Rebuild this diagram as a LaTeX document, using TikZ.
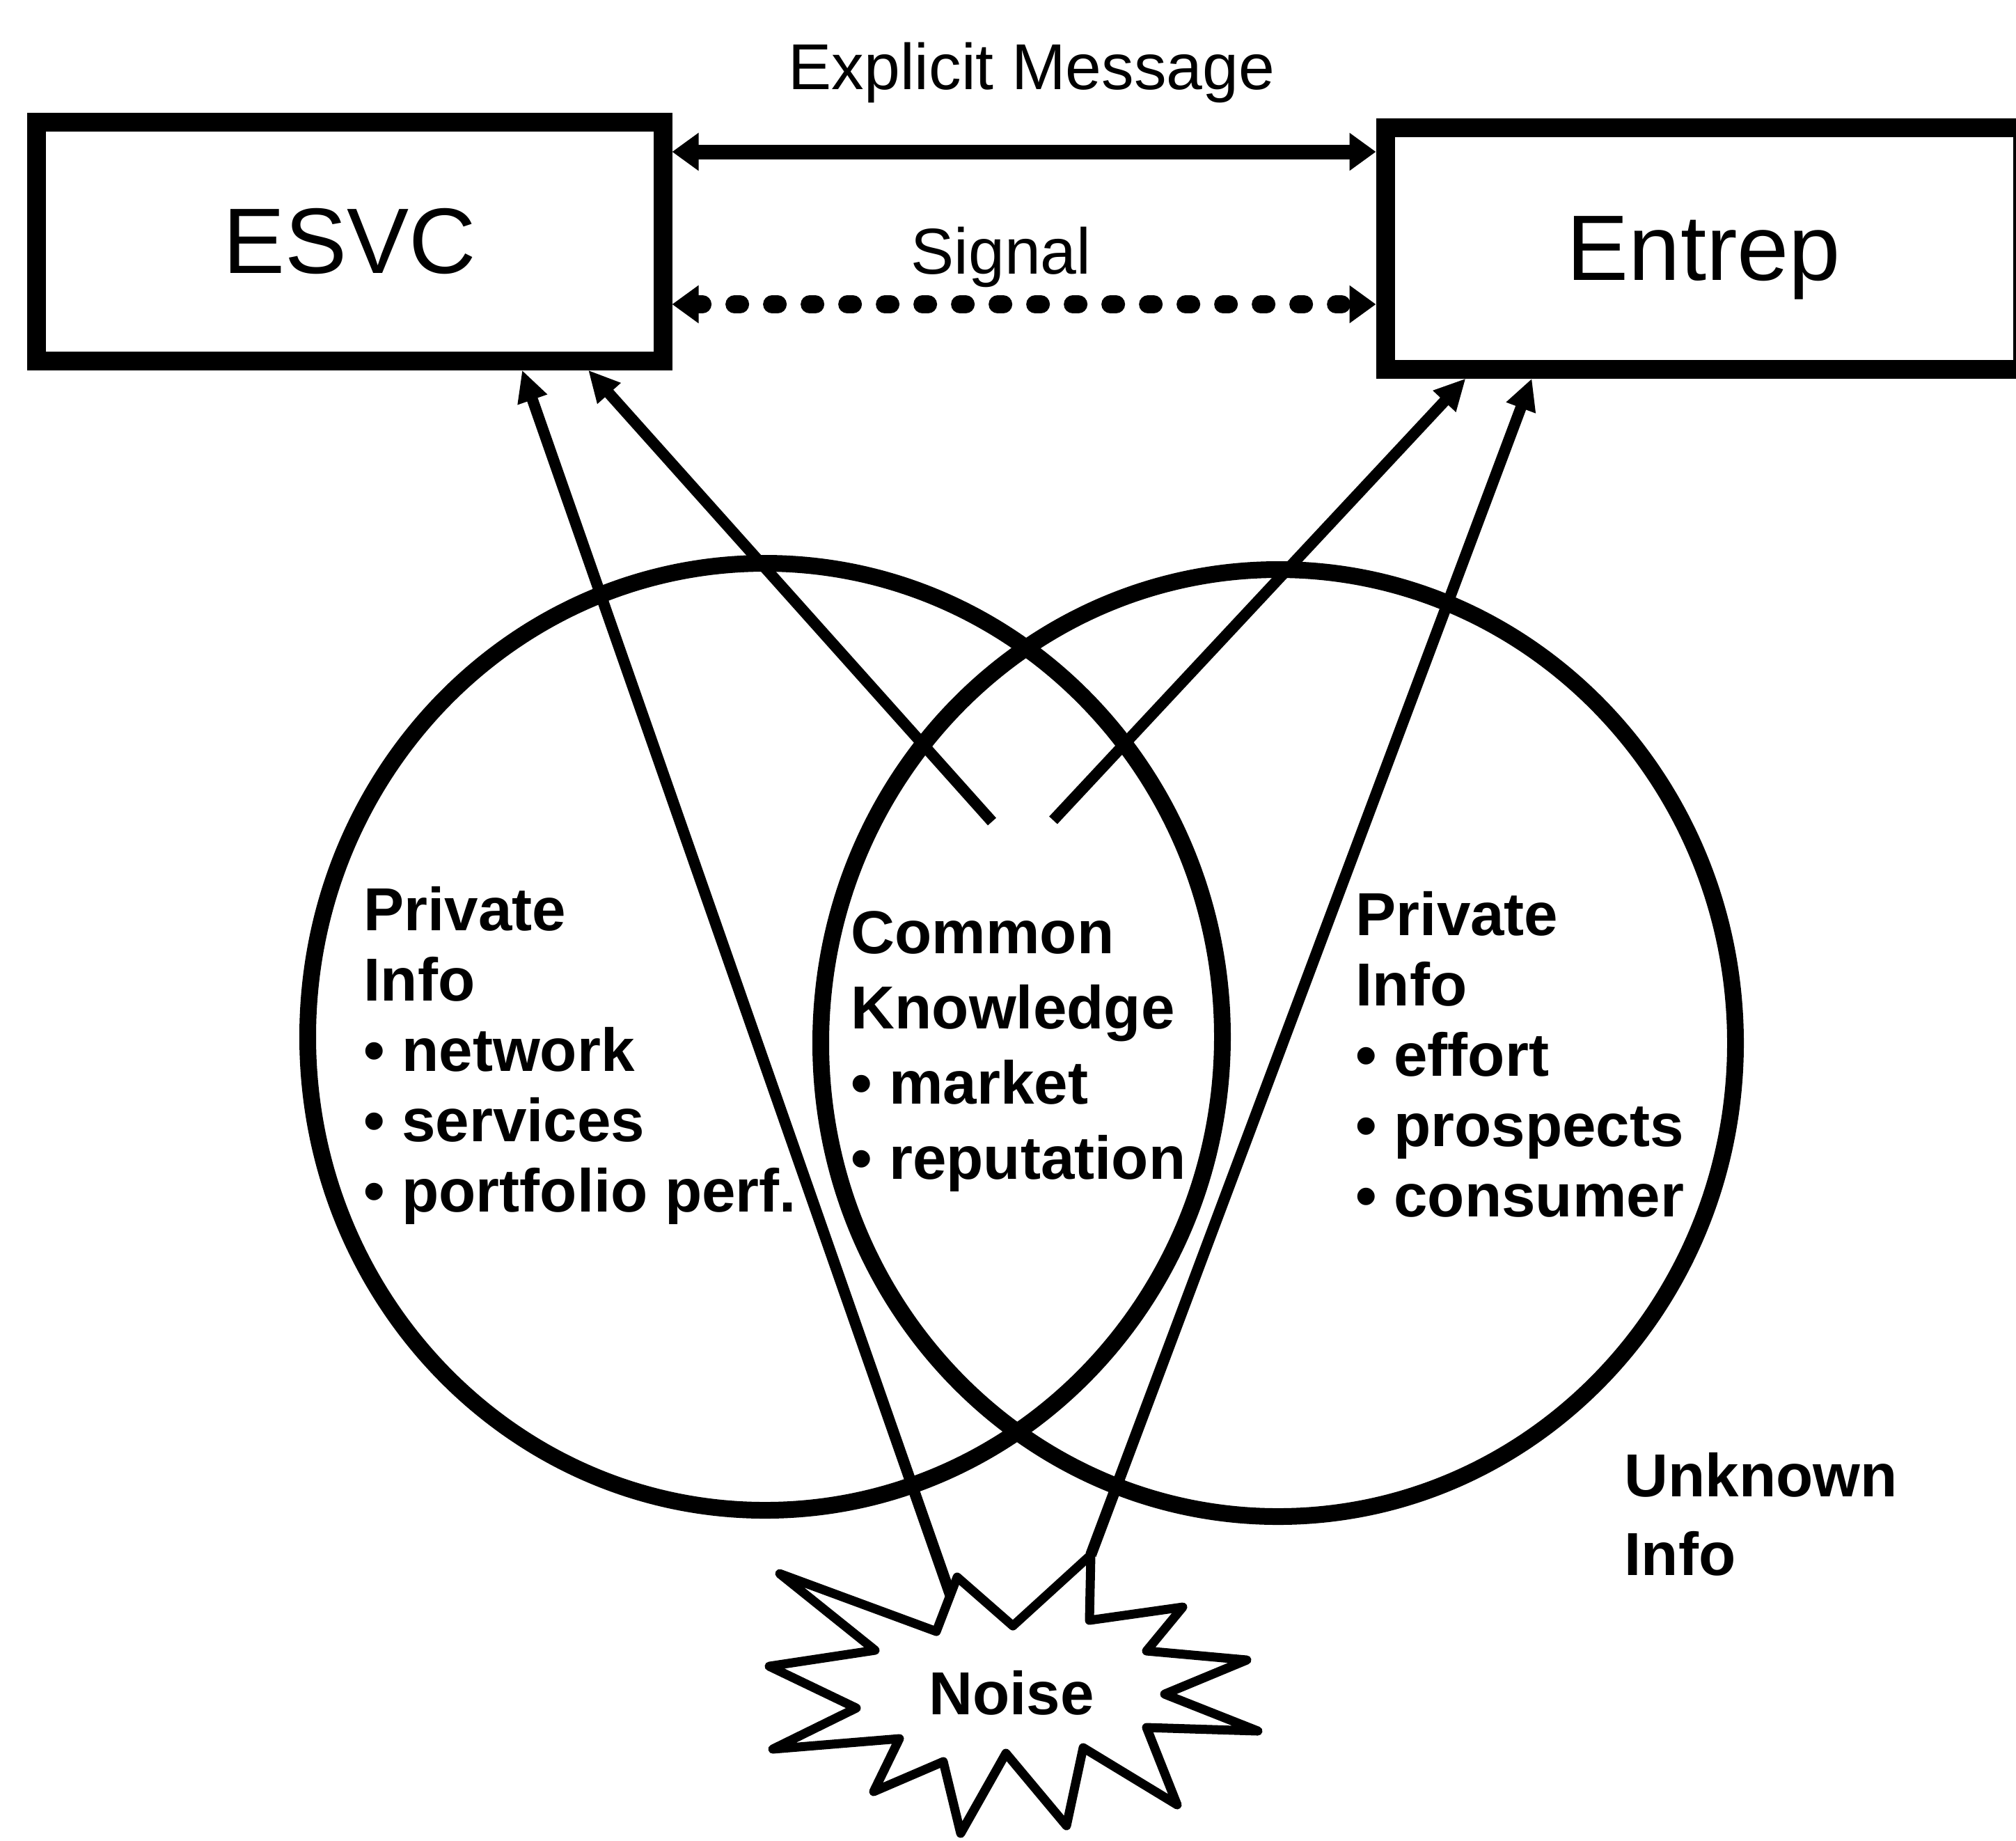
\documentclass[tikz,border=0pt]{standalone}
\usepackage{fontspec}
\setmainfont{Liberation Sans}
\usetikzlibrary{arrows.meta,shapes.geometric}

\begin{document}
\begin{tikzpicture}[
    box/.style={draw,line width=0.27cm,inner sep=0pt,font=\fontsize{38}{44}\selectfont},
    set/.style={draw,ellipse,line width=0.24cm,minimum width=13.14cm,minimum height=13.6cm,inner sep=0pt},
    lbl/.style={inner sep=0pt,anchor=base,font=\fontsize{26.5}{30}\selectfont},
    info/.style={inner sep=0pt,align=left,anchor=base west},
    burst/.style={line width=0.13cm,line join=round,fill=white},
    fl/.style={-{Triangle[length=0.45cm,width=0.42cm]},line width=0.16cm},
    msg/.style={{Triangle[length=0.38cm,width=0.52cm]}-{Triangle[length=0.38cm,width=0.52cm]},line width=0.21cm},
    sig/.style={msg,line width=0.26cm,line cap=round,dash pattern=on 0.08cm off 0.46cm}]
  \path[use as bounding box,fill=white] (0,0) rectangle (28.96,-26.43);
  % the two parties
  \node[box,minimum width=9.00cm,minimum height=3.43cm] (esvc) at (5.02,-3.465) {ESVC};
  \node[box,minimum width=9.15cm,minimum height=3.47cm,text depth=0pt] (entrep) at (24.475,-3.565) {Entrep};
  \node[lbl] (expl) at (14.82,-1.28) {Explicit Message};
  \node[lbl] (sigl) at (14.38,-3.93) {Signal};
  \draw[msg] (esvc.east |- 0,-2.18) -- (entrep.west |- 0,-2.18);
  \draw[sig] (esvc.east |- 0,-4.37) -- (entrep.west |- 0,-4.37);
  % information sets
  \node[set] (lset) at (10.99,-14.89) {};
  \node[set] (rset) at (18.36,-14.98) {};
  % base anchor sits on the last line
  \node[info,font=\bfseries\fontsize{24.8}{28.7}\selectfont] (lpriv) at (5.22,-17.40)
    {Private\\Info\\\textbullet\ network\\\textbullet\ services\\\textbullet\ portfolio perf.};
  \node[info,font=\bfseries\fontsize{24.8}{30.7}\selectfont] (common) at (12.22,-16.93)
    {Common\\Knowledge\\\textbullet\ market\\\textbullet\ reputation};
  \node[info,font=\bfseries\fontsize{24.8}{28.7}\selectfont] (rpriv) at (19.47,-17.47)
    {Private\\Info\\\textbullet\ effort\\\textbullet\ prospects\\\textbullet\ consumer};
  \node[info,font=\bfseries\fontsize{24.8}{31.9}\selectfont] (unknown) at (23.33,-22.62)
    {Unknown\\Info};
  % noise burst
  \draw[burst] (11.20,-22.60) -- (13.45,-23.43) -- (13.75,-22.65) -- (14.55,-23.35)
    -- (15.67,-22.33) -- (15.65,-23.27) -- (16.99,-23.08) -- (16.47,-23.71)
    -- (17.91,-23.84) -- (16.73,-24.33) -- (18.07,-24.86) -- (16.47,-24.81)
    -- (16.91,-25.92) -- (15.56,-25.10) -- (15.32,-26.22) -- (14.45,-25.18)
    -- (13.80,-26.33) -- (13.55,-25.30) -- (12.55,-25.73) -- (12.92,-24.97)
    -- (11.10,-25.12) -- (12.30,-24.53) -- (11.05,-23.93) -- (12.57,-23.70) -- cycle;
  \node[inner sep=0pt,font=\bfseries\fontsize{24.8}{28}\selectfont] (noise) at (14.53,-24.31) {Noise};
  \coordinate (nzl) at (13.65,-22.90);
  \coordinate (nzr) at (15.67,-22.33);
  \coordinate (ckl) at (14.25,-11.80);
  \coordinate (ckr) at (15.13,-11.78);
  % what each party sees
  \draw[fl] (nzl) -- ([xshift=2.48cm]esvc.south);
  \draw[fl] (ckl) -- ([xshift=3.43cm]esvc.south);
  \draw[fl] (ckr) -- ([xshift=-3.42cm]entrep.south);
  \draw[fl] (nzr) -- ([xshift=-2.47cm]entrep.south);
\end{tikzpicture}
\end{document}
